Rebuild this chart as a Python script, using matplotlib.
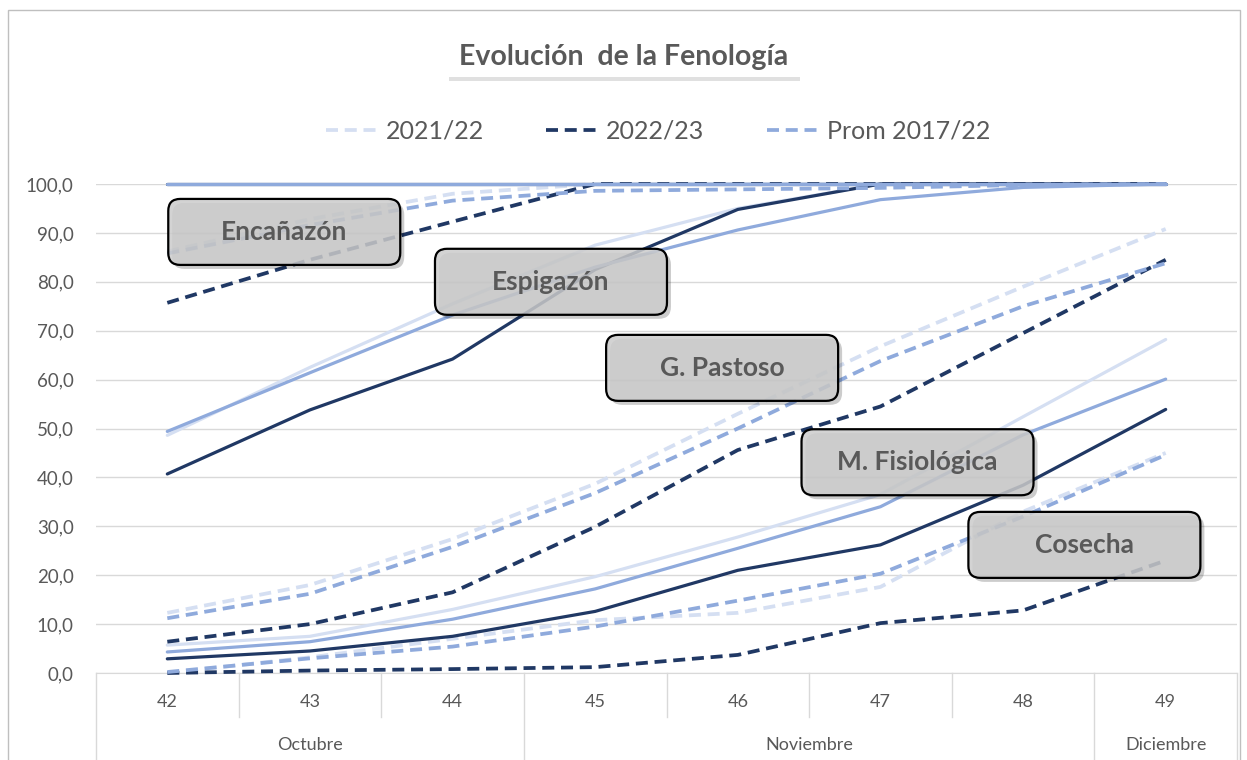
import matplotlib
matplotlib.use("Agg")
import matplotlib.pyplot as plt
import matplotlib.patches as patches
from matplotlib.lines import Line2D
from matplotlib.transforms import IdentityTransform

plt.rcParams['font.family'] = ['Lato', 'DejaVu Sans']

weeks = ["42", "43", "44", "45", "46", "47", "48", "49"]
months = ["Octubre", "Noviembre", "Diciembre"]
month_first = [0, 3, 7]
month_last = [2, 6, 7]
seasons = ["2021/22", "2022/23", "Prom 2017/22"]

# etapa ya completada (línea en 100)
prev_2122 = [100, 100, 100, 100, 100, 100, 100, 100]
prev_2223 = [100, 100, 100, 100, 100, 100, 100, 100]
prev_prom = [100, 100, 100, 100, 100, 100, 100, 100]

# Encañazón
enc_2122 = [86.2, 92.8, 98.0, 100, 100, 100, 100, 100]
enc_2223 = [75.7, 84.5, 92.3, 100, 100, 100, 100, 100]
enc_prom = [85.8, 91.6, 96.6, 98.6, 98.9, 99.2, 99.8, 100]

# Espigazón
esp_2122 = [48.6, 62.5, 75.5, 87.5, 95.0, 100, 100, 100]
esp_2223 = [40.7, 53.8, 64.2, 82.5, 94.8, 100, 100, 100]
esp_prom = [49.4, 61.4, 73.2, 83.0, 90.6, 96.8, 99.3, 100]

# G. Pastoso
gp_2122 = [12.3, 18.0, 27.4, 38.7, 53.0, 66.8, 79.0, 90.8]
gp_2223 = [6.4, 10.0, 16.5, 29.9, 45.6, 54.5, 69.5, 84.5]
gp_prom = [11.2, 16.2, 25.8, 36.8, 50.0, 63.8, 75.0, 83.8]

# M. Fisiológica
mf_2122 = [5.7, 7.5, 13.0, 19.7, 27.8, 36.5, 52.4, 68.2]
mf_2223 = [2.9, 4.5, 7.5, 12.6, 21.0, 26.2, 38.4, 53.9]
mf_prom = [4.3, 6.4, 11.0, 17.2, 25.5, 34.0, 48.7, 60.1]

# Cosecha
cos_2122 = [0.0, 3.2, 7.0, 10.8, 12.3, 17.6, 33.0, 45.0]
cos_2223 = [0.0, 0.5, 0.8, 1.2, 3.7, 10.2, 12.8, 23.0]
cos_prom = [0.2, 3.0, 5.4, 9.5, 14.8, 20.3, 32.0, 44.6]

labels = ["Encañazón", "Espigazón", "G. Pastoso", "M. Fisiológica", "Cosecha"]
label_pos = [(0.82, 90.2), (2.69, 80.0), (3.89, 62.4), (5.26, 43.1), (6.43, 26.2)]

c_light = "#D5DFF2"
c_dark = "#203864"
c_mid = "#8FAADC"
grey_txt = "#595959"
grid_c = "#D9D9D9"

fig = plt.figure(figsize=(12.47, 7.6), dpi=100)
ax = fig.add_axes([96/1247, 87/760, (1237-96)/1247, (673-184)/760])
x = list(range(len(weeks)))

stages = [
    (prev_2122, prev_2223, prev_prom, "-"),
    (enc_2122, enc_2223, enc_prom, "--"),
    (esp_2122, esp_2223, esp_prom, "-"),
    (gp_2122, gp_2223, gp_prom, "--"),
    (mf_2122, mf_2223, mf_prom, "-"),
    (cos_2122, cos_2223, cos_prom, "--"),
]

def draw(vals, color, ls, z):
    if ls == "-":
        ax.plot(x, vals, color=color, lw=2.3, zorder=z, clip_on=False,
                solid_capstyle="round", solid_joinstyle="round")
    else:
        ax.plot(x, vals, color=color, lw=2.7, ls=(0, (3.2, 1.8)), zorder=z,
                clip_on=False, dash_capstyle="butt")

for s in stages:
    draw(s[0], c_light, s[3], 2)
for s in stages:
    draw(s[1], c_dark, s[3], 3)
for s in stages:
    draw(s[2], c_mid, s[3], 4)

ax.set_xlim(-0.5, 7.5)
ax.set_ylim(0, 100)
ax.set_yticks(range(0, 101, 10))
ax.set_yticklabels([f"{v:.1f}".replace(".", ",") for v in range(0, 101, 10)])
ax.tick_params(axis="y", length=0, pad=16, labelsize=13.5, labelcolor=grey_txt)
ax.set_xticks([])
ax.yaxis.grid(True, color=grid_c, lw=1)
ax.set_axisbelow(True)
for sp in ["top", "left", "right"]:
    ax.spines[sp].set_visible(False)
ax.spines["bottom"].set_color(grid_c)

# eje de categorías en dos niveles
tr = ax.get_xaxis_transform()
for i, w in enumerate(weeks):
    ax.text(i, -0.06, w, transform=tr, ha="center", va="center",
            fontsize=13, color=grey_txt)
for m, a, b in zip(months, month_first, month_last):
    ax.text((a + b) / 2, -0.147, m, transform=tr, ha="center", va="center",
            fontsize=13, color=grey_txt)
for i in range(len(weeks) + 1):
    xb = i - 0.5
    full = i == 0 or i == len(weeks) or i in month_first
    ax.plot([xb, xb], [0, -0.2 if full else -0.09], transform=tr,
            color=grid_c, lw=1, clip_on=False)

# borde del gráfico
fig.add_artist(patches.Rectangle((8/1247, -0.05), (1240-8)/1247, 1.05 - 10/760,
                                 transform=fig.transFigure, fill=False,
                                 ec="#BFBFBF", lw=1))

# título
ident = IdentityTransform()
fig.add_artist(patches.Rectangle((449, 760-81), 351, 40, transform=ident,
                                 fc="black", alpha=0.12, ec="none", zorder=5))
fig.add_artist(patches.Rectangle((447, 760-77), 353, 40, transform=ident,
                                 fc="white", ec="none", zorder=6))
fig.text(623.5, 760-57, "Evolución  de la Fenología", transform=ident,
         ha="center", va="center", fontsize=20.5, fontweight="bold",
         color=grey_txt, zorder=7)

# leyenda
handles = [Line2D([], [], color=c, lw=2.7, ls=(0, (3.2, 1.8)))
           for c in (c_light, c_dark, c_mid)]
fig.legend(handles, seasons, loc="center", bbox_to_anchor=(658/1247, 1-131/760),
           ncol=3, frameon=False, fontsize=18, handlelength=2.0,
           columnspacing=2.5, handletextpad=0.4, labelcolor=grey_txt)

# etiquetas de etapas
bw, bh = 232, 66
for lab, (lx, ly) in zip(labels, label_pos):
    cx, cy = ax.transData.transform((lx, ly))
    fig.add_artist(patches.FancyBboxPatch((cx - bw/2 + 4, cy - bh/2 - 4), bw, bh,
                                          boxstyle="round,pad=0,rounding_size=12",
                                          transform=ident, fc="black", alpha=0.2,
                                          ec="none", zorder=8))
    fig.add_artist(patches.FancyBboxPatch((cx - bw/2, cy - bh/2), bw, bh,
                                          boxstyle="round,pad=0,rounding_size=12",
                                          transform=ident, fc=(0.80, 0.80, 0.80, 0.85),
                                          ec="black", lw=1.6, zorder=9))
    fig.text(cx, cy, lab, transform=ident, ha="center", va="center",
             fontsize=19, fontweight="bold", color=grey_txt, zorder=10)

fig.savefig("out.png", dpi=100)
